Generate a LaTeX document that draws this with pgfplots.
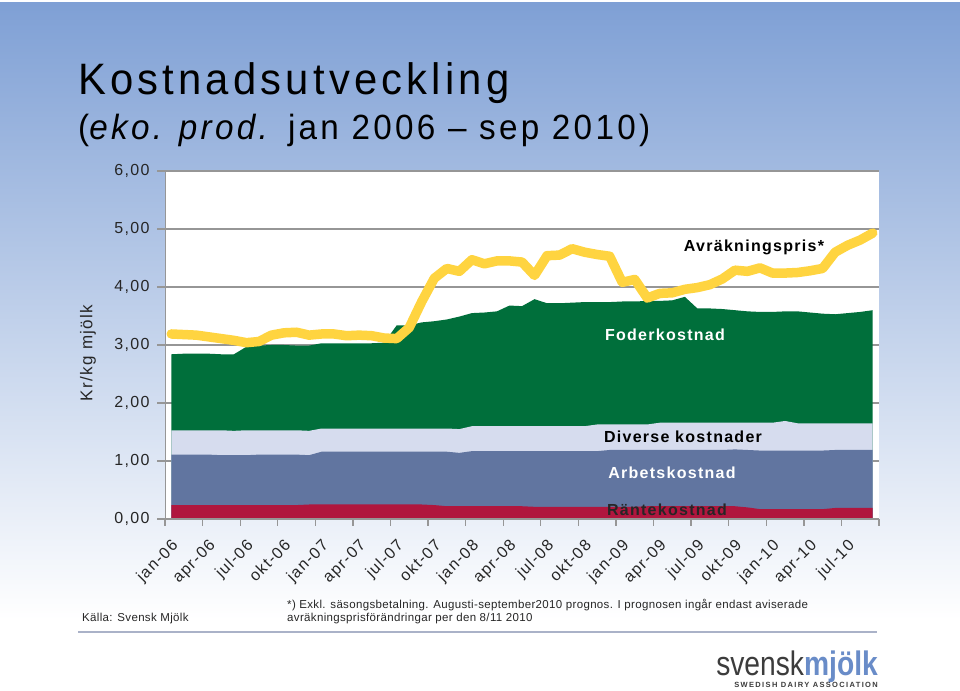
\documentclass[border=0pt]{standalone}
\usepackage{graphicx}
\usepackage{pgfplots}
\pgfplotsset{compat=1.18}
\usepackage{pgfplotstable}
\usepackage{fontspec}
\setmainfont{Liberation Sans}
\newfontfamily\spf[LetterSpace=8]{Liberation Sans}
\newfontfamily\spfs[LetterSpace=3]{Liberation Sans}
\newfontfamily\titlefont[LetterSpace=10]{Liberation Sans}
\newfontfamily\logofont[LetterSpace=18]{Liberation Sans}

\definecolor{bgblue}{RGB}{127,160,213}
\definecolor{foder}{RGB}{0,111,59}
\definecolor{diverse}{RGB}{214,220,238}
\definecolor{arbete}{RGB}{97,117,160}
\definecolor{ranta}{RGB}{176,22,62}
\definecolor{pris}{RGB}{255,212,64}
\definecolor{gridg}{RGB}{150,150,150}
\definecolor{logoblue}{RGB}{105,140,200}
\definecolor{logogray}{RGB}{60,60,60}
\definecolor{ruleblue}{RGB}{170,178,200}

% i = month index (0 = jan-06 ... 56 = sep-10)
% T = top of Foderkostnad (total), D = top of Diverse, A = top of Arbetskostnad, R = Raentekostnad, P = Avraekningspris
\pgfplotstableread{
i T D A R P
0 2.84 1.53 1.11 0.24 3.19
1 2.85 1.53 1.11 0.24 3.18
2 2.85 1.53 1.11 0.24 3.17
3 2.85 1.53 1.11 0.24 3.14
4 2.84 1.53 1.10 0.24 3.11
5 2.84 1.52 1.10 0.24 3.08
6 2.97 1.53 1.10 0.24 3.04
7 2.99 1.53 1.11 0.24 3.06
8 3.00 1.53 1.11 0.24 3.17
9 3.00 1.53 1.11 0.24 3.21
10 2.99 1.53 1.11 0.24 3.22
11 2.99 1.52 1.10 0.25 3.17
12 3.03 1.56 1.16 0.25 3.19
13 3.03 1.56 1.16 0.25 3.19
14 3.03 1.56 1.16 0.25 3.16
15 3.03 1.56 1.16 0.25 3.17
16 3.03 1.56 1.16 0.25 3.16
17 3.04 1.56 1.16 0.25 3.12
18 3.34 1.56 1.16 0.25 3.11
19 3.34 1.56 1.16 0.25 3.30
20 3.39 1.56 1.16 0.25 3.75
21 3.41 1.56 1.16 0.24 4.15
22 3.44 1.56 1.16 0.22 4.32
23 3.49 1.55 1.14 0.22 4.27
24 3.55 1.60 1.17 0.22 4.47
25 3.56 1.60 1.17 0.22 4.40
26 3.58 1.60 1.17 0.22 4.45
27 3.68 1.60 1.17 0.22 4.45
28 3.67 1.60 1.17 0.22 4.43
29 3.79 1.60 1.17 0.21 4.20
30 3.72 1.60 1.17 0.21 4.54
31 3.72 1.60 1.17 0.21 4.55
32 3.73 1.60 1.17 0.21 4.66
33 3.74 1.60 1.17 0.21 4.60
34 3.74 1.63 1.17 0.21 4.56
35 3.74 1.63 1.19 0.21 4.53
36 3.75 1.63 1.19 0.21 4.08
37 3.75 1.63 1.19 0.21 4.13
38 3.76 1.63 1.19 0.22 3.81
39 3.76 1.66 1.19 0.22 3.89
40 3.77 1.66 1.19 0.22 3.90
41 3.83 1.66 1.19 0.22 3.96
42 3.63 1.66 1.19 0.22 3.99
43 3.63 1.66 1.19 0.22 4.04
44 3.62 1.66 1.19 0.22 4.14
45 3.60 1.66 1.20 0.22 4.29
46 3.58 1.66 1.19 0.20 4.27
47 3.57 1.66 1.18 0.17 4.33
48 3.57 1.66 1.18 0.17 4.24
49 3.58 1.69 1.18 0.17 4.24
50 3.58 1.65 1.18 0.17 4.25
51 3.56 1.65 1.18 0.17 4.28
52 3.54 1.65 1.18 0.17 4.32
53 3.53 1.65 1.19 0.19 4.60
54 3.55 1.65 1.19 0.19 4.72
55 3.57 1.65 1.19 0.19 4.81
56 3.60 1.65 1.19 0.19 4.93
}\data

\begin{document}
\begin{tikzpicture}[x=1pt,y=1pt]
\useasboundingbox (0,0) rectangle (960,690);
\fill[white] (0,0) rectangle (960,690);
\shade[top color=bgblue, bottom color=white] (0,70) rectangle (960,687);

\begin{axis}[
  at={(165pt,171pt)}, anchor=south west,
  scale only axis, width=714pt, height=348pt,
  xmin=-0.5, xmax=56.5, ymin=0, ymax=6,
  axis background/.style={fill=white},
  axis line style={draw=none},
  ytick={0,1,2,3,4,5,6},
  yticklabels={{0,00},{1,00},{2,00},{3,00},{4,00},{5,00},{6,00}},
  ytick pos=left, xtick pos=bottom,
  tick align=outside,
  major tick length=8pt, minor tick length=7pt,
  xtick={0,3,...,54},
  xticklabels={jan-06,apr-06,jul-06,okt-06,jan-07,apr-07,jul-07,okt-07,jan-08,apr-08,jul-08,okt-08,jan-09,apr-09,jul-09,okt-09,jan-10,apr-10,jul-10},
  minor xtick={-0.5,2.5,...,56.5},
  major x tick style={draw=none},
  tick style={gridg, line width=1.3pt},
  ymajorgrids,
  major y grid style={gridg, line width=1.4pt},
  yticklabel style={font=\spf\fontsize{16}{18}\selectfont, text=black!85, xshift=-4pt},
  xticklabel style={font=\spf\fontsize{16}{18}\selectfont, text=black!85, rotate=45, anchor=north east, xshift=-5pt, yshift=-4pt},
]
\addplot[fill=foder, draw=none] table[x=i, y=T] {\data} \closedcycle;
\addplot[fill=diverse, draw=none] table[x=i, y=D] {\data} \closedcycle;
\addplot[fill=arbete, draw=none] table[x=i, y=A] {\data} \closedcycle;
\addplot[fill=ranta, draw=none] table[x=i, y=R] {\data} \closedcycle;
\addplot[pris, line width=9.5pt, line join=round, line cap=round] table[x=i, y=P] {\data};
\draw[gridg, line width=1.4pt] (axis cs:-0.5,0) -- (axis cs:-0.5,6);
\draw[gridg, line width=1.4pt] (axis cs:-0.5,0) -- (axis cs:56.5,0);
\end{axis}

% series labels
\node[font=\spf\bfseries\fontsize{16}{18}\selectfont, text=black] at (754,443) {Avräkningspris*};
\node[font=\spf\bfseries\fontsize{16}{18}\selectfont, text=white] at (665,355) {Foderkostnad};
\node[font=\spf\bfseries\fontsize{16}{18}\selectfont, text=black] at (683,253) {Diverse kostnader};
\node[font=\spf\bfseries\fontsize{16}{18}\selectfont, text=white] at (672,217) {Arbetskostnad};
\node[font=\spf\bfseries\fontsize{16}{18}\selectfont, text=black!85] at (667,180) {Räntekostnad};

% y label
\node[rotate=90, font=\spf\fontsize{17}{20}\selectfont, text=black!85] at (88,337) {Kr/kg mjölk};

% title
\node[anchor=base west, inner sep=0] at (78,595) {\scalebox{0.95}[1]{\titlefont\fontsize{44}{50}\selectfont Kostnadsutveckling}};
\node[anchor=base west, inner sep=0] at (78,550) {\scalebox{0.95}[1]{\titlefont\fontsize{35}{42}\selectfont (\textit{eko. prod.} jan 2006 – sep 2010)}};

% footer
\node[anchor=base west, inner sep=0, font=\spfs\fontsize{11.5}{13}\selectfont, text=black!85] at (82,68) {Källa: Svensk Mjölk};
\node[anchor=base west, inner sep=0, font=\spfs\fontsize{11.5}{13}\selectfont, text=black!85] at (287,81) {*) Exkl. säsongsbetalning. Augusti-september2010 prognos. I prognosen ingår endast aviserade};
\node[anchor=base west, inner sep=0, font=\spfs\fontsize{11.5}{13}\selectfont, text=black!85] at (287,68) {avräkningsprisförändringar per den 8/11 2010};
\draw[ruleblue, line width=1.5pt] (78,58) -- (877,58);

% logo
\node[anchor=base east, inner sep=0] at (878,14) {\scalebox{0.83}[1]{\fontsize{34}{40}\selectfont\color{logogray}svensk\color{logoblue}\bfseries mjölk}};
\node[anchor=base east, inner sep=0] at (878,2) {\logofont\bfseries\fontsize{7.5}{9}\selectfont\color{logogray}SWEDISH DAIRY ASSOCIATION};
\end{tikzpicture}
\end{document}
